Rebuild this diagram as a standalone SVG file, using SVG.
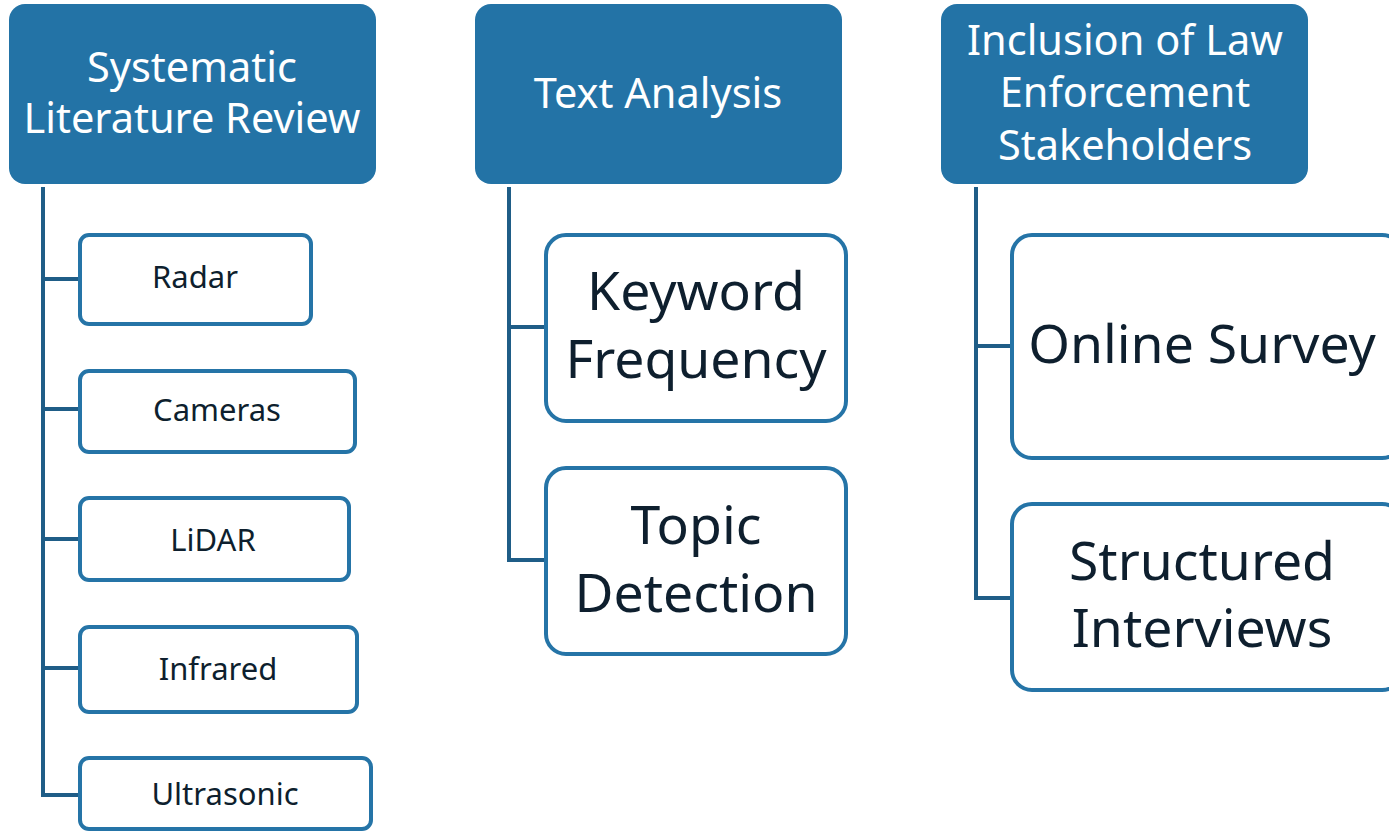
<svg xmlns="http://www.w3.org/2000/svg" width="1389" height="831" viewBox="0 0 1389 831">
<style>
.hdr{fill:#2373A6;}
.box{fill:#fff;stroke:#2574A7;stroke-width:4;}
.ht{fill:#fff;font-family:"Noto Sans","Open Sans",sans-serif;font-size:41.5px;text-anchor:middle;}
.st{fill:#0E1F2E;font-family:"Noto Sans","Open Sans",sans-serif;font-size:31px;text-anchor:middle;}
.bt{fill:#0E1F2E;font-family:"Noto Sans","Open Sans",sans-serif;font-size:53.5px;text-anchor:middle;}
.ln{fill:none;stroke:#1F5D87;stroke-width:4;stroke-linejoin:miter;}
</style>
<rect width="1389" height="831" fill="#fff"/>
<g id="connectors">
<path class="ln" d="M43 187 V795 H80"/>
<path class="ln" d="M43 279 H80 M43 409 H80 M43 539 H80 M43 668 H80"/>
<path class="ln" d="M509 187 V560 H546 M509 327 H546"/>
<path class="ln" d="M976 187 V598 H1012 M976 346 H1012"/>
</g>
<g id="h1"><rect class="hdr" x="9" y="4" width="367" height="180" rx="16"/>
<text class="ht" x="192" y="82">Systematic</text><text class="ht" x="192" y="133">Literature Review</text></g>
<g id="h2"><rect class="hdr" x="475" y="4" width="367" height="180" rx="16"/>
<text class="ht" x="658" y="108">Text Analysis</text></g>
<g id="h3"><rect class="hdr" x="941" y="4" width="367" height="180" rx="16"/>
<text class="ht" x="1125" y="55">Inclusion of Law</text><text class="ht" x="1125" y="107">Enforcement</text><text class="ht" x="1125" y="160">Stakeholders</text></g>
<g id="radar"><rect class="box" x="80" y="235" width="231" height="89" rx="9"/><text class="st" x="195" y="288">Radar</text></g>
<g id="cameras"><rect class="box" x="80" y="371" width="275" height="81" rx="9"/><text class="st" x="217" y="421">Cameras</text></g>
<g id="lidar"><rect class="box" x="80" y="498" width="269" height="82" rx="9"/><text class="st" x="213" y="551">LiDAR</text></g>
<g id="infrared"><rect class="box" x="80" y="627" width="277" height="85" rx="9"/><text class="st" x="218" y="680">Infrared</text></g>
<g id="ultrasonic"><rect class="box" x="80" y="758" width="291" height="71" rx="9"/><text class="st" x="225" y="805">Ultrasonic</text></g>
<g id="keyword"><rect class="box" x="546" y="235" width="300" height="186" rx="20"/><text class="bt" x="696" y="310">Keyword</text><text class="bt" x="696" y="378">Frequency</text></g>
<g id="topic"><rect class="box" x="546" y="468" width="300" height="186" rx="20"/><text class="bt" x="696" y="544">Topic</text><text class="bt" x="696" y="612">Detection</text></g>
<g id="survey"><rect class="box" x="1012" y="235" width="390" height="223" rx="20"/><text class="bt" x="1202" y="363">Online Survey</text></g>
<g id="interviews"><rect class="box" x="1012" y="504" width="390" height="186" rx="20"/><text class="bt" x="1202" y="580">Structured</text><text class="bt" x="1202" y="647">Interviews</text></g>
</svg>
